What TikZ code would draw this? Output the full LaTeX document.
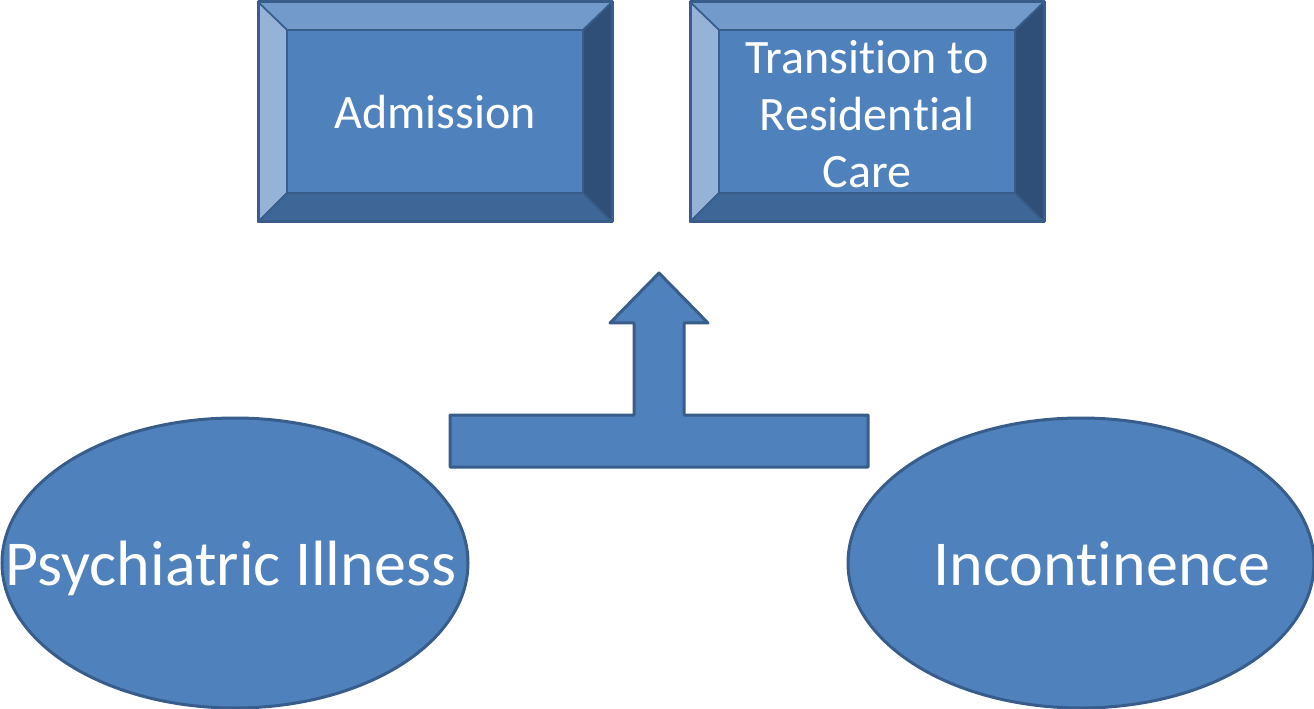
\documentclass[tikz,border=0pt]{standalone}
\usepackage{fontspec}
\setmainfont{Carlito}[RawFeature={-liga;-clig;-calt;-dlig}]
\usetikzlibrary{shapes.geometric}

\definecolor{faceblue}{RGB}{79,129,189}
\definecolor{edgeblue}{RGB}{56,93,138}
\definecolor{bevtop}{RGB}{114,154,203}
\definecolor{bevleft}{RGB}{149,179,215}
\definecolor{bevbottom}{RGB}{62,102,151}
\definecolor{bevright}{RGB}{47,79,120}
\newcommand{\nolig}{\kern0pt}

\tikzset{every picture/.style={line width=0.75pt}}
\tikzset{
  bevel/.style={draw=edgeblue, line width=1.2pt, line join=round},
  boxtext/.style={text=white, inner sep=0.75pt, font=\fontsize{36}{43}\selectfont},
  blob/.style={ellipse, draw=edgeblue, fill=faceblue, line width=2.25pt, inner sep=0pt,
    minimum width=349.5pt, minimum height=217.5pt},
  blobtext/.style={text=white, inner sep=0pt, anchor=base, font=\fontsize{48}{58}\selectfont},
}

\begin{document}
\begin{tikzpicture}[x=0.75pt,y=0.75pt,yscale=-1,xscale=1]
\path[use as bounding box] (0,0) rectangle (1314,709);

%Bevel boxes
\foreach \x in {258,690}{
  \fill[faceblue] (\x,2) rectangle (\x+354,222);
  \filldraw[bevel, fill=bevtop] (\x,2) -- (\x+354,2) -- (\x+325,30) -- (\x+29,30) -- cycle;
  \filldraw[bevel, fill=bevleft] (\x,2) -- (\x+29,30) -- (\x+29,193) -- (\x,222) -- cycle;
  \filldraw[bevel, fill=bevbottom] (\x,222) -- (\x+29,193) -- (\x+325,193) -- (\x+354,222) -- cycle;
  \filldraw[bevel, fill=bevright] (\x+354,2) -- (\x+354,222) -- (\x+325,193) -- (\x+325,30) -- cycle;
  \draw[bevel] (\x+29,30) rectangle (\x+325,193);
  \draw[edgeblue, line width=2.25pt, line join=round] (\x,2) rectangle (\x+354,222);
}

% Text Node
\node[boxtext, anchor=base] (adm) at (435,129) {Admission};
% Text Node
\node[boxtext, align=center] (trans) at (867,114) {Transit\nolig ion to\\Residen\nolig t\nolig ial\\Care};

%T arrow
\filldraw[draw=edgeblue, fill=faceblue, line width=2.25pt, line join=round]
  (450,415) -- (634,415) -- (634,323) -- (610,323) -- (659,273) -- (708,323)
  -- (684,323) -- (684,415) -- (868,415) -- (868,467) -- (450,467) -- cycle;

%Ellipses
\node[blob] (psy) at (235,563) {};
\node[blob] (inc) at (1081,563) {};
% Text Node
\node[blobtext] (psytext) at (231,585) {Psychiatric Illness};
% Text Node
\node[blobtext] (inctext) at (1102,585) {Incont\nolig inence};

\end{tikzpicture}
\end{document}
